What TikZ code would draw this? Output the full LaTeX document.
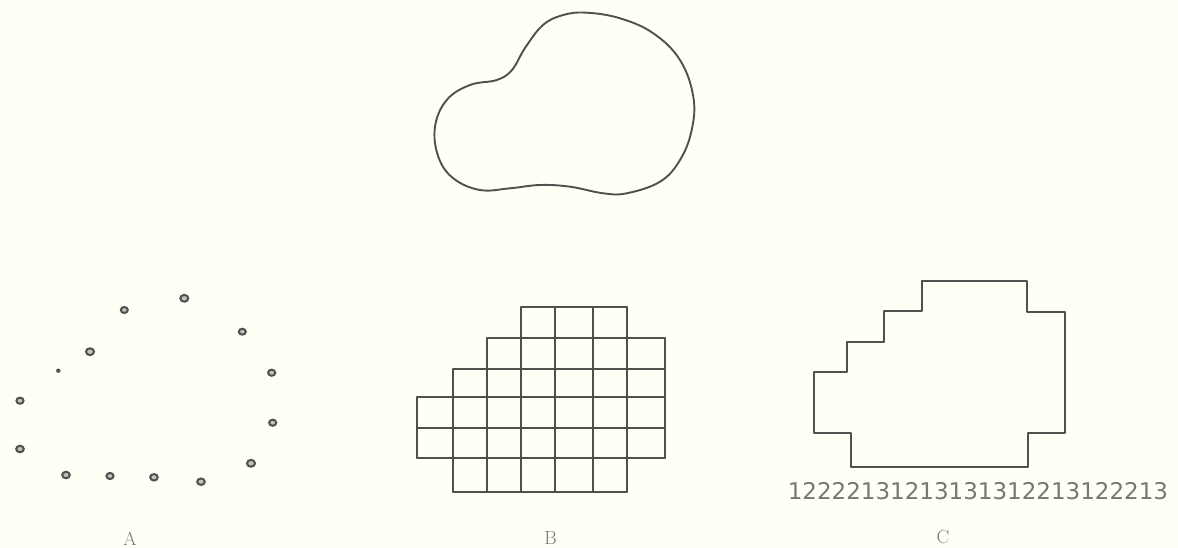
\documentclass[tikz,border=0pt]{standalone}
\usepackage{fontspec}
\newfontfamily\digitfont{DejaVu Sans}
\definecolor{paper}{RGB}{255,255,246}
\definecolor{ink}{RGB}{80,80,78}
\definecolor{labelink}{RGB}{120,120,115}
\tikzset{
  outline/.style={draw=ink, line width=1.9pt, line join=round, line cap=round},
  gridline/.style={draw=ink, line width=1.6pt, line cap=round},
  dotring/.style={draw=ink, line width=2pt, fill=ink!35},
  lbl/.style={text=labelink, font=\fontsize{19}{20}\selectfont, inner sep=0pt},
}
\begin{document}
\begin{tikzpicture}[x=1pt,y=-1pt]
\fill[paper] (0,0) rectangle (1178,548);
\useasboundingbox (0,0) rectangle (1178,548);

% top blob
\draw[outline] plot[smooth cycle, tension=0.65] coordinates {
 (586.7,12.7) (620,18.3) (653.3,33.3) (680,60) (693.3,96.7) (691.7,130)
 (680,160) (660,181.7) (626.7,193.3) (603.3,193.3) (570,186.7) (540,185)
 (510,188.3) (480,190) (453.3,178.3) (438.3,156.7) (435,126.7) (446.7,100)
 (470,85) (496.7,80) (512,70) (525,48) (543,25) (563.3,15)};

% A: sampled points
\foreach \px/\py/\r in {124.3/310/3.5, 184.3/298.3/4, 242.3/331.7/3.5, 90/351.7/4,
  271.7/372.7/3.6, 20/400.7/3.6, 272.7/422.7/3.6, 20/449/3.8, 251/463.3/4,
  66/475/3.8, 110/476/3.6, 154/477.3/3.8, 201/481.7/3.8}
  \draw[dotring] (\px,\py) ellipse [x radius=\r, y radius=\r*0.85];
\fill[ink] (58.3,370.7) circle [radius=2.2];

% B: grid
\foreach \y/\xa/\xb in {307/521/627, 338/487/665, 369/453/665, 397/417/665,
  428/417/665, 458/417/665, 492/453/627}
  \draw[gridline] (\xa,\y) -- (\xb,\y);
\foreach \x/\ya/\yb in {417/397/458, 453/369/492, 487/338/492, 521/307/492,
  555/307/492, 593/307/492, 627/307/492, 665/338/458}
  \draw[gridline] (\x,\ya) -- (\x,\yb);

% C: boundary
\draw[outline, line width=2.2pt] (922,281) -- (1027,281) -- (1027,312) -- (1065,312)
  -- (1065,433) -- (1028,433) -- (1028,467) -- (851,467) -- (851,433)
  -- (814,433) -- (814,372) -- (847,372) -- (847,342) -- (884,342)
  -- (884,311) -- (922,311) -- cycle;

\node[text=labelink, inner sep=0pt, font=\digitfont\fontsize{23}{24}\selectfont] (code) at (978,491.5) {12222131213131312213122213};

\node[lbl] (la) at (130,539) {A};
\node[lbl] (lb) at (550.5,538) {B};
\node[lbl] (lc) at (943,537) {C};
\end{tikzpicture}
\end{document}
